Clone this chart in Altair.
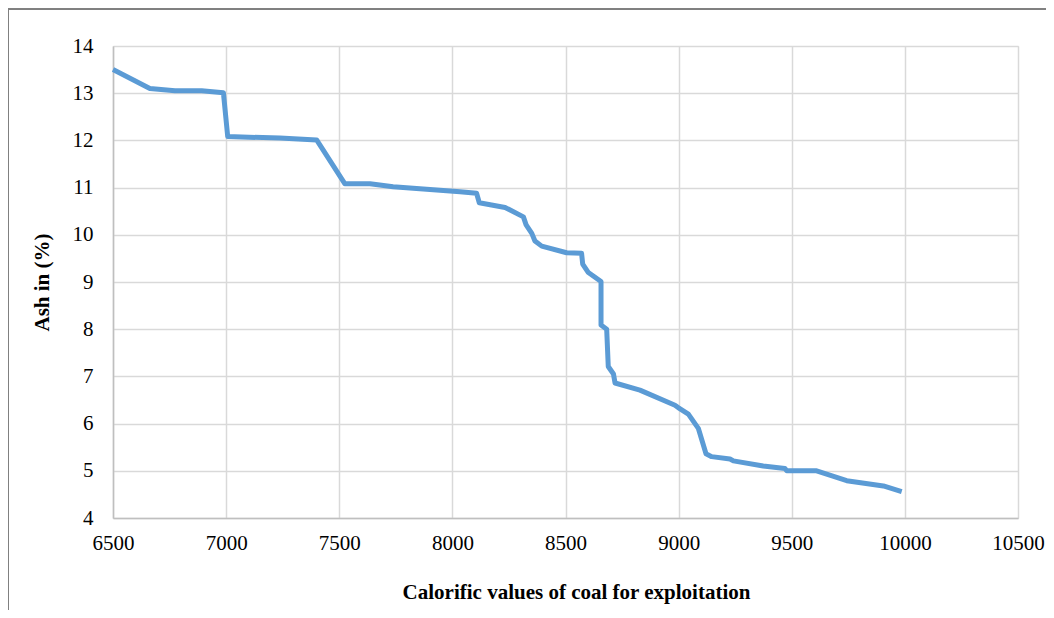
import altair as alt
import pandas as pd

calorific = [6500, 6663, 6774, 6892, 6988, 7007, 7238, 7400, 7525, 7636, 7738, 8034,
             8107, 8119, 8233, 8314, 8326, 8351, 8365, 8395, 8505, 8571, 8576, 8601,
             8657, 8657, 8682, 8689, 8712, 8719, 8829, 8984, 8998, 9043, 9087, 9121,
             9146, 9227, 9242, 9374, 9470, 9478, 9610, 9743, 9905, 9986]
ash = [13.50, 13.10, 13.05, 13.05, 13.01, 12.08, 12.05, 12.01, 11.08, 11.08, 11.02, 10.91,
       10.88, 10.68, 10.58, 10.38, 10.21, 10.03, 9.87, 9.76, 9.62, 9.61, 9.38, 9.20,
       9.01, 8.09, 8.00, 7.21, 7.05, 6.86, 6.71, 6.39, 6.34, 6.20, 5.90, 5.36,
       5.30, 5.25, 5.21, 5.10, 5.05, 5.00, 5.00, 4.79, 4.68, 4.56]

df = pd.DataFrame({"cal": calorific, "ash": ash, "order": list(range(len(ash)))})

FONT = "Liberation Serif"

line = alt.Chart(df).mark_line(color="#5b9bd5", strokeWidth=5, strokeJoin="round").encode(
    x=alt.X("cal:Q", scale=alt.Scale(domain=[6500, 10500], nice=False, zero=False),
            axis=alt.Axis(values=list(range(6500, 10501, 500)), title="Calorific values of coal for exploitation",
                          format="d", labelFontSize=21, titleFontSize=21, labelFont=FONT, titleFont=FONT,
                          titleFontWeight="bold", labelColor="#000000", titleColor="#000000",
                          ticks=False, tickSize=0, labelPadding=14, titlePadding=28, titleX=463,
                          domainColor="#bfbfbf", domainWidth=1.5, gridColor="#d9d9d9", gridWidth=1.5,
                          labelFlush=False)),
    y=alt.Y("ash:Q", scale=alt.Scale(domain=[4, 14], nice=False, zero=False),
            axis=alt.Axis(values=list(range(4, 15)), title="Ash in (%)",
                          labelFontSize=21, titleFontSize=21, labelFont=FONT, titleFont=FONT,
                          titleFontWeight="bold", labelColor="#000000", titleColor="#000000",
                          ticks=False, tickSize=0, labelPadding=20, titlePadding=20,
                          domainColor="#bfbfbf", domainWidth=1.5, gridColor="#d9d9d9", gridWidth=1.5,
                          labelFlush=False)),
    order="order:Q",
)

top_border = alt.Chart(df).mark_rule(color="#808080", strokeWidth=1).encode(
    x=alt.value(-105), x2=alt.value(941), y=alt.value(-37)
)
left_border = alt.Chart(df).mark_rule(color="#808080", strokeWidth=1).encode(
    x=alt.value(-104.5), y=alt.value(-37), y2=alt.value(572)
)

chart = alt.layer(line, top_border, left_border).properties(
    width=905, height=472,
    autosize=alt.AutoSizeParams(type="none"),
    padding={"left": 105, "top": 38, "right": 28, "bottom": 92},
).configure_view(stroke=None).configure(background="white")

chart.save("out.html", embed_options={"renderer": "svg", "actions": False})
